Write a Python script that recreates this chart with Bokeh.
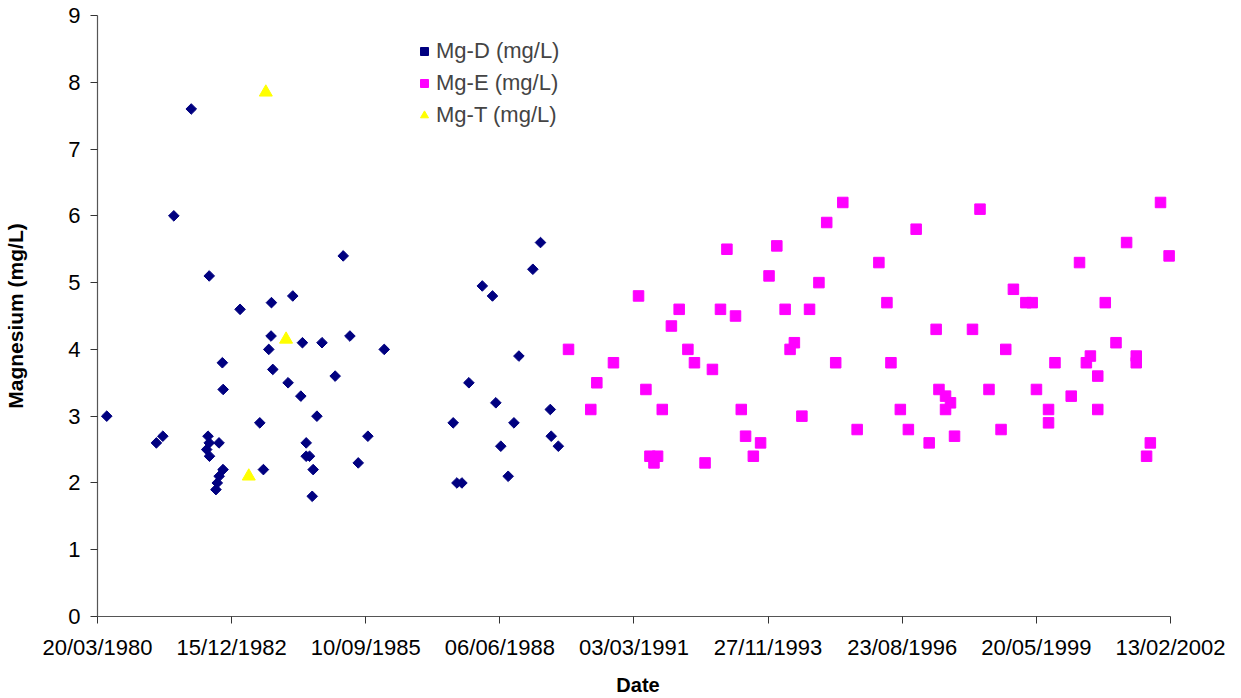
import math
import pandas as pd
from datetime import datetime, timedelta
from bokeh.plotting import figure
from bokeh.models import Range1d, FixedTicker, DatetimeTickFormatter
from bokeh.embed import file_html
from bokeh.resources import INLINE

# ---------------- data ----------------
mgd_dates = ["1980-05-28", "1981-06-02", "1981-07-20", "1981-10-10", "1982-02-17",
             "1982-06-12", "1982-06-22", "1982-07-01", "1982-07-01", "1982-07-03",
             "1982-08-20", "1982-08-30", "1982-09-12", "1982-09-13", "1982-10-07",
             "1982-10-12", "1982-10-13", "1983-02-16", "1983-07-13", "1983-08-09",
             "1983-09-18", "1983-10-05", "1983-10-08", "1983-10-18", "1984-02-09",
             "1984-03-15", "1984-05-14", "1984-05-26", "1984-06-23", "1984-06-23",
             "1984-07-18", "1984-08-07", "1984-08-14", "1984-09-11", "1984-10-19",
             "1985-01-25", "1985-03-26", "1985-05-15", "1985-07-16", "1985-09-26",
             "1986-01-26", "1987-06-24", "1987-07-22", "1987-08-28", "1987-10-19",
             "1988-01-27", "1988-04-12", "1988-05-07", "1988-06-13", "1988-08-07",
             "1988-09-19", "1988-10-26", "1989-02-07", "1989-04-05", "1989-06-17",
             "1989-06-24", "1989-08-16"]
mgd_values = [3.0, 2.6, 2.7, 6.0, 7.6,
              2.5, 2.7, 5.1, 2.6, 2.4,
              1.9, 2.0, 2.6, 2.1, 3.8,
              2.2, 3.4, 4.6, 2.9, 2.2,
              4.0, 4.2, 4.7, 3.7, 3.5,
              4.8, 3.3, 4.1, 2.6, 2.4,
              2.4, 1.8, 2.2, 3.0, 4.1,
              3.6, 5.4, 4.2, 2.3, 2.7,
              4.0, 2.9, 2.0, 2.0, 3.5,
              4.95, 4.8, 3.2, 2.55, 2.1,
              2.9, 3.9, 5.2, 5.6, 3.1,
              2.7, 2.55]

mge_dates = ["1989-10-31", "1990-04-15", "1990-05-30", "1990-10-01", "1991-04-06",
             "1991-05-31", "1991-06-30", "1991-07-30", "1991-08-26", "1991-09-30",
             "1991-12-07", "1992-02-03", "1992-04-08", "1992-05-27", "1992-08-14",
             "1992-10-08", "1992-12-07", "1993-01-24", "1993-03-29", "1993-05-11",
             "1993-06-12", "1993-08-09", "1993-10-02", "1993-12-04", "1994-01-31",
             "1994-04-03", "1994-05-10", "1994-06-11", "1994-08-06", "1994-10-02",
             "1994-12-11", "1995-02-07", "1995-04-15", "1995-06-07", "1995-09-22",
             "1996-03-02", "1996-05-01", "1996-05-31", "1996-08-09", "1996-10-08",
             "1996-12-05", "1997-03-12", "1997-05-03", "1997-05-24", "1997-07-12",
             "1997-07-12", "1997-08-18", "1997-09-17", "1998-01-29", "1998-03-26",
             "1998-06-01", "1998-08-30", "1998-10-04", "1998-11-30", "1999-03-03",
             "1999-04-19", "1999-05-21", "1999-08-19", "1999-08-19", "1999-10-06",
             "2000-02-04", "2000-04-06", "2000-05-27", "2000-06-26", "2000-08-20",
             "2000-08-20", "2000-10-15", "2001-01-03", "2001-03-23", "2001-06-03",
             "2001-06-03", "2001-08-19", "2001-09-16", "2001-12-01", "2002-02-03"]
mge_values = [4.0, 3.1, 3.5, 3.8, 4.8,
              3.4, 2.4, 2.3, 2.4, 3.1,
              4.35, 4.6, 4.0, 3.8, 2.3,
              3.7, 4.6, 5.5, 4.5, 3.1,
              2.7, 2.4, 2.6, 5.1, 5.55,
              4.6, 4.0, 4.1, 3.0, 4.6,
              5.0, 5.9, 3.8, 6.2, 2.8,
              5.3, 4.7, 3.8, 3.1, 2.8,
              5.8, 2.6, 4.3, 3.4, 3.3,
              3.1, 3.2, 2.7, 4.3, 6.1,
              3.4, 2.8, 4.0, 4.9, 4.7,
              4.7, 3.4, 3.1, 2.9, 3.8,
              3.3, 5.3, 3.8, 3.9, 3.6,
              3.1, 4.7, 4.1, 5.6, 3.9,
              3.8, 2.4, 2.6, 6.2, 5.4]

mgt_dates = ["1983-04-22", "1983-08-27", "1984-01-25"]
mgt_values = [2.1, 7.85, 4.15]

x_tick_labels = ["20/03/1980", "15/12/1982", "10/09/1985", "06/06/1988", "03/03/1991",
                 "27/11/1993", "23/08/1996", "20/05/1999", "13/02/2002"]
y_ticks = [0, 1, 2, 3, 4, 5, 6, 7, 8, 9]

series_names = ["Mg-D (mg/L)", "Mg-E (mg/L)", "Mg-T (mg/L)"]
x_title = "Date"
y_title = "Magnesium (mg/L)"

# ---------------- figure ----------------
FONT = "Liberation Sans"
tick_dt = [datetime.strptime(s, "%d/%m/%Y") for s in x_tick_labels]
epoch = datetime(1970, 1, 1)
tick_ms = [(d - epoch).total_seconds() * 1000.0 for d in tick_dt]

# extend the frame a little past the last tick so edge markers are not clipped;
# the axis line itself stops at the last tick (bounds)
pad = timedelta(days=60)

p = figure(width=1241, height=698, x_axis_type="datetime",
           output_backend="svg", toolbar_location=None,
           x_range=Range1d(tick_dt[0], tick_dt[-1] + pad),
           y_range=Range1d(y_ticks[0], y_ticks[-1]),
           min_border_left=97, min_border_right=63,
           min_border_top=15, min_border_bottom=82)
p.outline_line_color = None
p.xgrid.grid_line_color = None
p.ygrid.grid_line_color = None
p.background_fill_color = "white"
p.border_fill_color = "white"

p.scatter(pd.to_datetime(mgd_dates), mgd_values, marker="square", angle=math.pi / 4,
          size=7.5, color="#000080", legend_label=series_names[0])
p.scatter(pd.to_datetime(mge_dates), mge_values, marker="square",
          size=10.5, color="#FF00FF", legend_label=series_names[1])
p.scatter(pd.to_datetime(mgt_dates), mgt_values, marker="triangle",
          size=13, color="#FFFF00", legend_label=series_names[2])

fmt = "%d/%m/%Y"
p.xaxis.ticker = FixedTicker(ticks=tick_ms)
p.xaxis.formatter = DatetimeTickFormatter(
    microseconds=fmt, milliseconds=fmt, seconds=fmt, minsec=fmt, minutes=fmt,
    hourmin=fmt, hours=fmt, days=fmt, months=fmt, years=fmt)
p.xaxis.bounds = (tick_dt[0], tick_dt[-1])
p.yaxis.ticker = FixedTicker(ticks=y_ticks)

for ax in (p.xaxis[0], p.yaxis[0]):
    ax.axis_line_color = "#555555"
    ax.axis_line_width = 1.2
    ax.major_tick_line_color = "#333333"
    ax.major_tick_out = 7
    ax.major_tick_in = 0
    ax.minor_tick_out = 0
    ax.minor_tick_in = 0
    ax.major_label_text_font = FONT
    ax.major_label_text_font_size = "22px"
    ax.major_label_text_color = "black"
    ax.axis_label_text_font = FONT
    ax.axis_label_text_font_size = "20px"
    ax.axis_label_text_font_style = "bold"
    ax.axis_label_text_color = "black"

p.yaxis.axis_label_text_font_size = "21px"
p.xaxis.axis_label = x_title
p.yaxis.axis_label = y_title
p.xaxis.major_label_standoff = 11
p.xaxis.axis_label_standoff = 11
p.yaxis.major_label_standoff = 10
p.yaxis.axis_label_standoff = 38

lg = p.legend[0]
lg.location = (317, 488)
lg.border_line_color = None
lg.background_fill_alpha = 0
lg.label_text_font = FONT
lg.label_text_font_size = "22px"
lg.glyph_width = 20
lg.glyph_height = 20
lg.label_height = 20
lg.spacing = 6
lg.padding = 0
lg.margin = 0
lg.label_standoff = 2

open("out.html", "w").write(file_html(p, INLINE))
